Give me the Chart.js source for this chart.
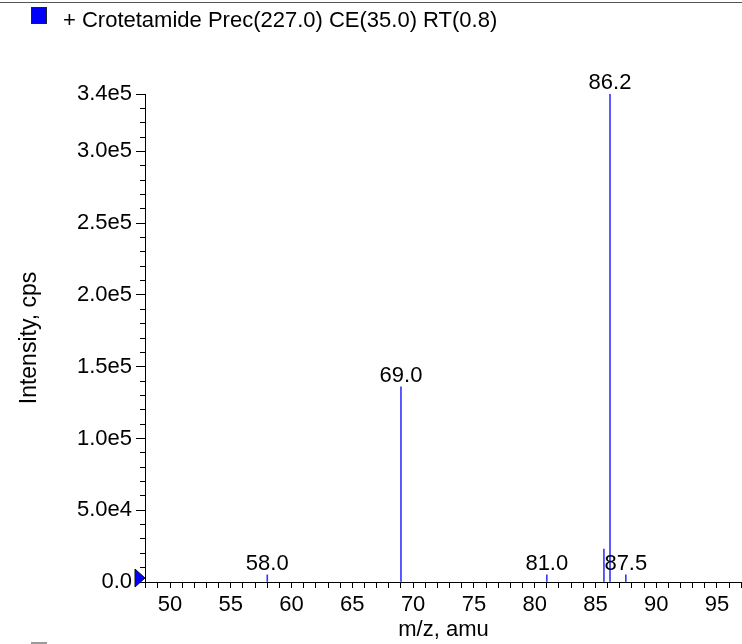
<!DOCTYPE html>
<html><head><meta charset="utf-8">
<script src="https://cdn.jsdelivr.net/npm/chart.js@4/dist/chart.umd.min.js"></script>
<style>html,body{margin:0;padding:0;background:#fff;overflow:hidden}#wrap{width:742px;height:644px;position:relative}canvas{display:block}</style>
</head><body><div id="wrap"><canvas id="c" width="742" height="644"></canvas></div>
<script>
const titleText = '+ Crotetamide Prec(227.0) CE(35.0) RT(0.8)';
const xAxisTitle = 'm/z, amu';
const yAxisTitle = 'Intensity, cps';
const mzValues = [58.0, 69.0, 81.0, 85.7, 86.2, 87.5];
const intensities = [5000, 136000, 5000, 23000, 340000, 5000];
const peakLabels = ['58.0', '69.0', '81.0', '', '86.2', '87.5'];
const xTickValues = [50, 55, 60, 65, 70, 75, 80, 85, 90, 95];
const yTickValues = [0, 50000, 100000, 150000, 200000, 250000, 300000, 340000];
const yTickLabels = ['0.0', '5.0e4', '1.0e5', '1.5e5', '2.0e5', '2.5e5', '3.0e5', '3.4e5'];

const FONT = "'Liberation Sans', Arial, Helvetica, sans-serif";
const FS = 22;
Chart.defaults.font.family = FONT;
Chart.defaults.color = '#000';

function align(p) { return Math.round(p - 0.5) + 0.5; }

const decorPlugin = {
  id: 'decor',
  afterDraw(chart) {
    const ctx = chart.ctx;
    const xs = chart.scales.x, ys = chart.scales.y;
    ctx.save();
    // top separator line
    ctx.strokeStyle = '#555';
    ctx.lineWidth = 1;
    ctx.beginPath(); ctx.moveTo(0, 2.5); ctx.lineTo(chart.width, 2.5); ctx.stroke();
    // header legend square + text
    ctx.fillStyle = '#0000ff';
    ctx.fillRect(31, 7, 16, 17);
    ctx.strokeStyle = '#222';
    ctx.strokeRect(31.5, 7.5, 15, 16);
    ctx.fillStyle = '#000';
    ctx.font = FS + 'px ' + FONT;
    ctx.textAlign = 'left'; ctx.textBaseline = 'alphabetic';
    ctx.fillText(titleText, 63, 27);
    // bottom cut-off gray square
    ctx.fillStyle = '#9a9a9a';
    ctx.fillRect(31, 642, 16, 4);
    // longer major ticks on y axis
    ctx.strokeStyle = '#000';
    ctx.lineWidth = 1;
    yTickValues.forEach(v => {
      const p = align(ys.getPixelForValue(v));
      ctx.beginPath(); ctx.moveTo(xs.left - 9, p); ctx.lineTo(xs.left - 4, p); ctx.stroke();
    });
    // peak labels
    const meta = chart.getDatasetMeta(0);
    ctx.fillStyle = '#000';
    ctx.textAlign = 'center';
    ctx.textBaseline = 'alphabetic';
    meta.data.forEach((el, i) => {
      if (peakLabels[i]) ctx.fillText(peakLabels[i], el.x, el.y - 5);
    });
    // baseline marker triangle
    const y0 = ys.getPixelForValue(0) - 4;
    const tx = xs.left;
    ctx.fillStyle = '#0000ff';
    ctx.strokeStyle = '#111';
    ctx.beginPath();
    ctx.moveTo(tx - 10, y0 - 9);
    ctx.lineTo(tx, y0);
    ctx.lineTo(tx - 10, y0 + 9);
    ctx.closePath();
    ctx.fill(); ctx.stroke();
    ctx.restore();
  }
};

new Chart(document.getElementById('c'), {
  type: 'bar',
  data: {
    datasets: [{
      label: titleText,
      data: mzValues.map((m, i) => ({ x: m, y: intensities[i] })),
      backgroundColor: '#3a3aff',
      borderWidth: 0,
      barThickness: 1
    }]
  },
  options: {
    responsive: false,
    animation: false,
    devicePixelRatio: 1,
    layout: { padding: { top: 94, left: 0, right: 0, bottom: 0 } },
    plugins: { legend: { display: false }, title: { display: false }, tooltip: { enabled: false } },
    scales: {
      x: {
        type: 'linear',
        offset: false,
        min: 47.94,
        max: 97.06,
        afterFit(s) { s.height = 62; },
        grid: { drawOnChartArea: false, offset: false, color: '#000', tickLength: 6, tickColor: '#000' },
        border: { color: '#000', width: 1 },
        ticks: {
          stepSize: 1,
          includeBounds: false,
          autoSkip: false,
          maxRotation: 0,
          padding: 0,
          font: { size: FS, lineHeight: 1.5 },
          color: '#000',
          callback: v => xTickValues.includes(v) ? String(v) : ''
        },
        title: { display: true, text: xAxisTitle, font: { size: FS }, color: '#000', padding: { top: 0, bottom: 1 } }
      },
      y: {
        min: 0,
        max: 340000,
        afterFit(s) { s.width = 145; },
        grid: { drawOnChartArea: false, color: '#000', tickLength: 5, tickColor: '#000' },
        border: { color: '#000', width: 1 },
        ticks: {
          stepSize: 10000,
          autoSkip: false,
          padding: 8,
          font: { size: FS },
          color: '#000',
          callback: v => { const k = yTickValues.indexOf(v); return k >= 0 ? yTickLabels[k] : ''; }
        },
        title: { display: true, text: yAxisTitle, font: { size: 23 }, color: '#000', padding: { top: 16, bottom: 0 } }
      }
    }
  },
  plugins: [decorPlugin]
});
</script>
</body></html>
